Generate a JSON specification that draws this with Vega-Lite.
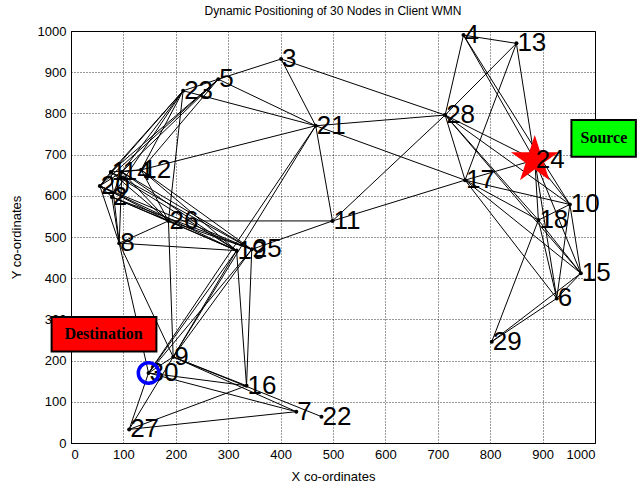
{
  "$schema": "https://vega.github.io/schema/vega-lite/v6.json",
  "width": 524,
  "height": 412,
  "autosize": {"type": "none"},
  "padding": {"left": 71, "top": 31, "right": 42, "bottom": 45},
  "background": "white",
  "title": {"text": "Dynamic Positioning of 30 Nodes in Client WMN", "font": "Liberation Sans", "fontSize": 12, "fontWeight": "normal", "color": "black", "offset": 13, "dy": 9},
  "config": {
    "view": {"stroke": "black", "strokeWidth": 1},
    "axis": {
      "labelFont": "Liberation Sans", "titleFont": "Liberation Sans",
      "labelFontSize": 13, "titleFontSize": 13, "titleFontWeight": "normal",
      "labelColor": "black", "titleColor": "black", "domainColor": "black",
      "grid": true, "gridColor": "black", "gridDash": [1, 2], "gridOpacity": 1, "gridWidth": 0.8,
      "ticks": false, "labelPadding": 5, "format": "d"
    },
    "axisX": {"titlePadding": 9},
    "axisY": {"titlePadding": 14}
  },
  "datasets": {
    "nodes": [
      {"id": 1, "x": 76, "y": 658}, {"id": 2, "x": 78, "y": 597}, {"id": 3, "x": 401, "y": 932},
      {"id": 4, "x": 749, "y": 990}, {"id": 5, "x": 281, "y": 883}, {"id": 6, "x": 927, "y": 351},
      {"id": 7, "x": 430, "y": 76}, {"id": 8, "x": 92, "y": 485}, {"id": 9, "x": 195, "y": 209},
      {"id": 10, "x": 952, "y": 579}, {"id": 11, "x": 499, "y": 539}, {"id": 12, "x": 134, "y": 663},
      {"id": 13, "x": 850, "y": 970}, {"id": 14, "x": 97, "y": 658}, {"id": 15, "x": 973, "y": 412},
      {"id": 16, "x": 335, "y": 139}, {"id": 17, "x": 752, "y": 638}, {"id": 18, "x": 892, "y": 541},
      {"id": 19, "x": 316, "y": 467}, {"id": 20, "x": 55, "y": 624}, {"id": 21, "x": 467, "y": 770},
      {"id": 22, "x": 478, "y": 64}, {"id": 23, "x": 214, "y": 855}, {"id": 24, "x": 885, "y": 687},
      {"id": 25, "x": 345, "y": 470}, {"id": 26, "x": 186, "y": 539}, {"id": 27, "x": 111, "y": 33},
      {"id": 28, "x": 714, "y": 796}, {"id": 29, "x": 803, "y": 246}, {"id": 30, "x": 148, "y": 170}
    ],
    "edges": [
      {"s": 3, "t": 5}, {"s": 3, "t": 21}, {"s": 3, "t": 28}, {"s": 5, "t": 21}, {"s": 5, "t": 23},
      {"s": 23, "t": 21}, {"s": 12, "t": 21}, {"s": 21, "t": 11}, {"s": 21, "t": 28}, {"s": 21, "t": 17},
      {"s": 21, "t": 9}, {"s": 21, "t": 30},
      {"s": 23, "t": 20}, {"s": 23, "t": 1}, {"s": 23, "t": 14}, {"s": 23, "t": 12}, {"s": 23, "t": 2}, {"s": 23, "t": 26},
      {"s": 5, "t": 20}, {"s": 5, "t": 14}, {"s": 5, "t": 12}, {"s": 5, "t": 1},
      {"s": 20, "t": 2}, {"s": 20, "t": 14}, {"s": 1, "t": 12}, {"s": 14, "t": 12}, {"s": 2, "t": 14}, {"s": 20, "t": 1},
      {"s": 20, "t": 19}, {"s": 20, "t": 25}, {"s": 2, "t": 19}, {"s": 2, "t": 25}, {"s": 1, "t": 19},
      {"s": 1, "t": 25}, {"s": 14, "t": 19}, {"s": 14, "t": 25}, {"s": 12, "t": 19}, {"s": 12, "t": 25},
      {"s": 20, "t": 26}, {"s": 2, "t": 26}, {"s": 14, "t": 26}, {"s": 1, "t": 26}, {"s": 12, "t": 26},
      {"s": 20, "t": 8}, {"s": 2, "t": 8}, {"s": 14, "t": 8}, {"s": 1, "t": 8},
      {"s": 8, "t": 26}, {"s": 8, "t": 19}, {"s": 8, "t": 30}, {"s": 8, "t": 9},
      {"s": 26, "t": 11}, {"s": 26, "t": 25}, {"s": 26, "t": 19}, {"s": 26, "t": 9},
      {"s": 11, "t": 25}, {"s": 11, "t": 17}, {"s": 28, "t": 11}, {"s": 13, "t": 28},
      {"s": 19, "t": 9}, {"s": 19, "t": 30}, {"s": 25, "t": 9}, {"s": 25, "t": 30}, {"s": 16, "t": 19}, {"s": 16, "t": 25},
      {"s": 9, "t": 16}, {"s": 9, "t": 7}, {"s": 9, "t": 22}, {"s": 30, "t": 9}, {"s": 30, "t": 16}, {"s": 30, "t": 7},
      {"s": 27, "t": 30}, {"s": 27, "t": 9}, {"s": 27, "t": 16}, {"s": 27, "t": 7},
      {"s": 4, "t": 13}, {"s": 4, "t": 28}, {"s": 4, "t": 24}, {"s": 4, "t": 10}, {"s": 13, "t": 17}, {"s": 13, "t": 24},
      {"s": 28, "t": 24}, {"s": 28, "t": 17}, {"s": 28, "t": 10}, {"s": 28, "t": 18}, {"s": 28, "t": 15},
      {"s": 24, "t": 17}, {"s": 24, "t": 10}, {"s": 24, "t": 18}, {"s": 24, "t": 15}, {"s": 24, "t": 6},
      {"s": 17, "t": 10}, {"s": 17, "t": 18}, {"s": 17, "t": 6}, {"s": 17, "t": 15},
      {"s": 10, "t": 18}, {"s": 10, "t": 15}, {"s": 10, "t": 6},
      {"s": 18, "t": 15}, {"s": 18, "t": 6}, {"s": 18, "t": 29},
      {"s": 15, "t": 6}, {"s": 15, "t": 29}, {"s": 6, "t": 29}
    ],
    "boxes": [
      {"label": "Source", "x": 955, "xb": 1078, "y": 784, "yb": 695, "tx": 1017, "ty": 740},
      {"label": "Destination", "x": -37, "xb": 163, "y": 306, "yb": 222, "tx": 62, "ty": 265}
    ]
  },
  "layer": [
    {
      "data": {"name": "edges"},
      "transform": [
        {"lookup": "s", "from": {"data": {"name": "nodes"}, "key": "id", "fields": ["x", "y"]}, "as": ["x", "y"]},
        {"lookup": "t", "from": {"data": {"name": "nodes"}, "key": "id", "fields": ["x", "y"]}, "as": ["xb", "yb"]}
      ],
      "mark": {"type": "rule", "color": "black", "strokeWidth": 1},
      "encoding": {
        "x": {"field": "x", "type": "quantitative", "title": "X co-ordinates",
              "scale": {"domain": [0, 1000], "nice": false, "zero": false},
              "axis": {"values": [0, 100, 200, 300, 400, 500, 600, 700, 800, 900, 1000]}},
        "y": {"field": "y", "type": "quantitative", "title": "Y co-ordinates",
              "scale": {"domain": [0, 1000], "nice": false, "zero": false},
              "axis": {"values": [0, 100, 200, 300, 400, 500, 600, 700, 800, 900, 1000]}},
        "x2": {"field": "xb"},
        "y2": {"field": "yb"}
      }
    },
    {
      "data": {"name": "nodes"},
      "mark": {"type": "circle", "size": 16, "color": "black", "opacity": 1},
      "encoding": {
        "x": {"field": "x", "type": "quantitative", "title": "X co-ordinates"},
        "y": {"field": "y", "type": "quantitative", "title": "Y co-ordinates"}
      }
    },
    {
      "data": {"name": "nodes"},
      "transform": [{"filter": "datum.id == 24"}],
      "mark": {"type": "point", "shape": "M0,-1L0.2245,-0.309L0.951,-0.309L0.363,0.118L0.588,0.809L0,0.382L-0.588,0.809L-0.363,0.118L-0.951,-0.309L-0.2245,-0.309Z", "size": 1900, "filled": true, "color": "red", "stroke": "red", "strokeWidth": 2, "opacity": 1},
      "encoding": {
        "x": {"field": "x", "type": "quantitative", "title": "X co-ordinates"},
        "y": {"field": "y", "type": "quantitative", "title": "Y co-ordinates"}
      }
    },
    {
      "data": {"name": "nodes"},
      "mark": {"type": "text", "align": "left", "baseline": "middle", "dx": 1, "fontSize": 26, "font": "Liberation Sans", "color": "black"},
      "encoding": {
        "x": {"field": "x", "type": "quantitative", "title": "X co-ordinates"},
        "y": {"field": "y", "type": "quantitative", "title": "Y co-ordinates"},
        "text": {"field": "id", "type": "nominal"}
      }
    },
    {
      "data": {"name": "nodes"},
      "transform": [{"filter": "datum.id == 30"}],
      "mark": {"type": "point", "shape": "circle", "size": 420, "filled": false, "color": "#0000ff", "strokeWidth": 3.5, "opacity": 1},
      "encoding": {
        "x": {"field": "x", "type": "quantitative", "title": "X co-ordinates"},
        "y": {"field": "y", "type": "quantitative", "title": "Y co-ordinates"}
      }
    },
    {
      "data": {"name": "boxes"},
      "mark": {"type": "rect", "stroke": "black", "strokeWidth": 2, "opacity": 1},
      "encoding": {
        "x": {"field": "x", "type": "quantitative", "title": "X co-ordinates"},
        "x2": {"field": "xb"},
        "y": {"field": "y", "type": "quantitative", "title": "Y co-ordinates"},
        "y2": {"field": "yb"},
        "color": {"field": "label", "type": "nominal", "scale": {"domain": ["Source", "Destination"], "range": ["#00ff00", "#ff0000"]}, "legend": null}
      }
    },
    {
      "data": {"name": "boxes"},
      "mark": {"type": "text", "align": "center", "baseline": "middle", "font": "Liberation Serif", "fontWeight": "bold", "fontSize": 16, "color": "black"},
      "encoding": {
        "x": {"field": "tx", "type": "quantitative", "title": "X co-ordinates"},
        "y": {"field": "ty", "type": "quantitative", "title": "Y co-ordinates"},
        "text": {"field": "label", "type": "nominal"}
      }
    }
  ]
}
